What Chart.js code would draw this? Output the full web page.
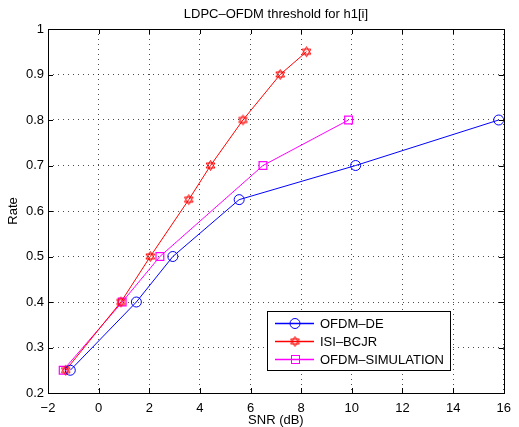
<!DOCTYPE html>
<html>
<head>
<meta charset="utf-8">
<script src="https://cdn.jsdelivr.net/npm/chart.js@4/dist/chart.umd.min.js"></script>
<style>
  html, body { margin: 0; padding: 0; background: #fff; }
  #wrap { width: 519px; height: 427px; }
</style>
</head>
<body>
<div id="wrap"><canvas id="thresholdChart" width="519" height="427"></canvas></div>
<script>
// values
const xTicks = [-2, 0, 2, 4, 6, 8, 10, 12, 14, 16];
const yTicks = [0.2, 0.3, 0.4, 0.5, 0.6, 0.7, 0.8, 0.9, 1];

const deSnr = [-1.12, 1.49, 2.93, 5.55, 10.15, 15.8];
const deRate = [0.25, 0.4, 0.5, 0.625, 0.7, 0.8];

const bcjrSnr = [-1.3, 0.88, 2.04, 3.56, 4.42, 5.7, 7.17, 8.21];
const bcjrRate = [0.25, 0.4, 0.5, 0.625, 0.7, 0.8, 0.9, 0.95];

const simSnr = [-1.4, 0.93, 2.42, 6.49, 9.87];
const simRate = [0.25, 0.4, 0.5, 0.7, 0.8];

const seriesNames = ['OFDM\u2013DE', 'ISI\u2013BCJR', 'OFDM\u2013SIMULATION'];

const FONT = '"Liberation Sans", Arial, sans-serif';

function toPoints(xs, ys) {
    return xs.map((x, i) => ({ x: x, y: ys[i] }));
}

// six pointed star marker for ISI-BCJR
function hexagram(color) {
    const c = document.createElement('canvas');
    c.width = 13; c.height = 13;
    const g = c.getContext('2d');
    g.strokeStyle = color;
    g.lineWidth = 1;
    const cx = 6.5, cy = 6.5, r = 5;
    for (let t = 0; t < 2; t++) {
        g.beginPath();
        for (let k = 0; k < 3; k++) {
            const a = -Math.PI / 2 + t * Math.PI / 3 + k * 2 * Math.PI / 3;
            const px = cx + r * Math.cos(a), py = cy + r * Math.sin(a);
            if (k === 0) g.moveTo(px, py); else g.lineTo(px, py);
        }
        g.closePath();
        g.stroke();
    }
    return c;
}
const star = hexagram('#ff0000');

// frame, inward ticks, title, axis labels and the boxed legend
const matlabLook = {
    id: 'matlabLook',
    afterDraw(chart) {
        const ctx = chart.ctx;
        const a = chart.chartArea;
        const xs = chart.scales.x, ys = chart.scales.y;
        ctx.save();
        ctx.strokeStyle = '#000';
        ctx.lineWidth = 1;
        ctx.beginPath();
        xTicks.forEach(v => {
            const px = Math.round(xs.getPixelForValue(v)) + 0.5;
            ctx.moveTo(px, a.bottom); ctx.lineTo(px, a.bottom - 5);
            ctx.moveTo(px, a.top); ctx.lineTo(px, a.top + 5);
        });
        yTicks.forEach(v => {
            const py = Math.round(ys.getPixelForValue(v)) + 0.5;
            ctx.moveTo(a.left, py); ctx.lineTo(a.left + 5, py);
            ctx.moveTo(a.right, py); ctx.lineTo(a.right - 5, py);
        });
        ctx.stroke();
        ctx.strokeRect(Math.round(a.left) + 0.5, Math.round(a.top) + 0.5,
            Math.round(a.right - a.left), Math.round(a.bottom - a.top));

        ctx.fillStyle = '#000';
        ctx.font = '13px ' + FONT;
        ctx.textAlign = 'center';
        ctx.textBaseline = 'middle';
        ctx.fillText('LDPC\u2013OFDM threshold for h1[i]', (a.left + a.right) / 2, 14);
        ctx.fillText('SNR (dB)', (a.left + a.right) / 2, 420);
        ctx.save();
        ctx.translate(13, (a.top + a.bottom) / 2);
        ctx.rotate(-Math.PI / 2);
        ctx.fillText('Rate', 0, 0);
        ctx.restore();

        // legend box
        const bx = 267.5, by = 311.5, bw = 183, bh = 59;
        ctx.fillStyle = '#fff';
        ctx.fillRect(bx, by, bw, bh);
        ctx.strokeRect(bx, by, bw, bh);
        const rows = [323, 341, 359];
        chart.data.datasets.forEach((ds, i) => {
            const y = rows[i];
            ctx.strokeStyle = ds.borderColor;
            ctx.lineWidth = 1.3;
            ctx.beginPath();
            ctx.moveTo(275, y + 0.5); ctx.lineTo(314, y + 0.5);
            ctx.stroke();
            ctx.lineWidth = 1;
            if (ds.pointStyle === 'circle') {
                ctx.beginPath();
                ctx.arc(295, y + 0.5, 5, 0, Math.PI * 2);
                ctx.stroke();
            } else if (ds.pointStyle === 'rect') {
                ctx.strokeRect(291.5, y - 3.5, 8, 8);
            } else {
                ctx.drawImage(star, 295 - 6.5, y - 6);
            }
            ctx.fillStyle = '#000';
            ctx.textAlign = 'left';
            ctx.fillText(ds.label, 320, y + 1);
        });
        ctx.restore();
    }
};

const ctxx = document.getElementById('thresholdChart').getContext('2d');

const thresholdChart = new Chart(ctxx, {
    type: 'scatter',
    data: {
        datasets: [
            {
                label: seriesNames[0],
                data: toPoints(deSnr, deRate),
                showLine: true,
                borderColor: '#0000ff',
                borderWidth: 1,
                pointStyle: 'circle',
                pointRadius: 5,
                pointBorderColor: '#0000ff',
                pointBackgroundColor: 'rgba(0,0,0,0)',
                pointBorderWidth: 1
            },
            {
                label: seriesNames[1],
                data: toPoints(bcjrSnr, bcjrRate),
                showLine: true,
                borderColor: '#ff0000',
                borderWidth: 1,
                pointStyle: star,
                pointRadius: 5
            },
            {
                label: seriesNames[2],
                data: toPoints(simSnr, simRate),
                showLine: true,
                borderColor: '#ff00ff',
                borderWidth: 1,
                pointStyle: 'rect',
                pointRadius: 5.5,
                pointBorderColor: '#ff00ff',
                pointBackgroundColor: 'rgba(0,0,0,0)',
                pointBorderWidth: 1.2
            }
        ]
    },
    options: {
        responsive: false,
        animation: false,
        layout: { padding: { top: 29, right: 10, left: 0, bottom: 0 } },
        plugins: {
            legend: { display: false },
            title: { display: false },
            tooltip: { enabled: false }
        },
        scales: {
            x: {
                type: 'linear',
                min: -2,
                max: 16,
                afterFit: s => { s.height = 34; },
                afterBuildTicks: s => { s.ticks = xTicks.map(v => ({ value: v })); },
                border: { display: false, dash: [1, 4] },
                grid: { color: 'rgba(0,0,0,0.7)', drawTicks: false },
                ticks: {
                    padding: 8,
                    color: '#000',
                    font: { family: FONT, size: 13 },
                    maxRotation: 0,
                    callback: v => (v < 0 ? '\u2212' + Math.abs(v) : String(v))
                }
            },
            y: {
                type: 'linear',
                min: 0.2,
                max: 1,
                afterFit: s => { s.width = 48; },
                afterBuildTicks: s => { s.ticks = yTicks.map(v => ({ value: v })); },
                border: { display: false, dash: [1, 4] },
                grid: { color: 'rgba(0,0,0,0.7)', drawTicks: false },
                ticks: {
                    padding: 4,
                    color: '#000',
                    font: { family: FONT, size: 13 },
                    callback: v => String(Math.round(v * 10) / 10)
                }
            }
        }
    },
    plugins: [matlabLook]
});
</script>
</body>
</html>
